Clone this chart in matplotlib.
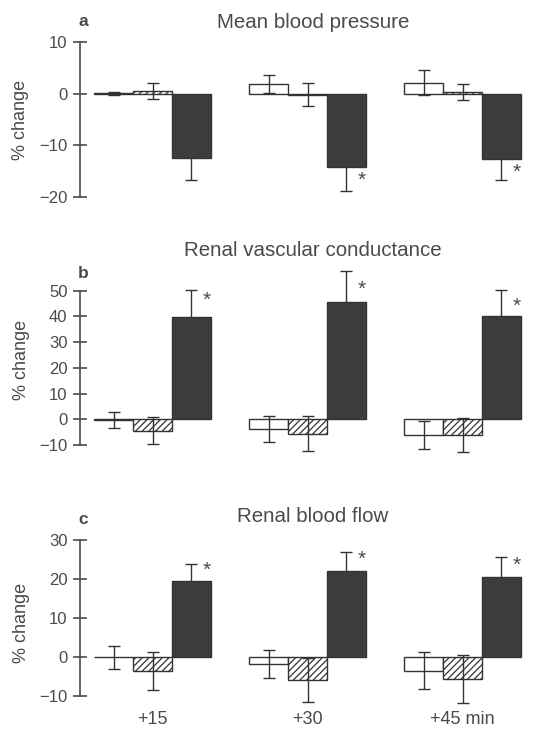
import numpy as np
from matplotlib import pyplot as plt
import matplotlib

matplotlib.rcParams["font.family"] = ["Liberation Sans", "DejaVu Sans"]
matplotlib.rcParams["hatch.linewidth"] = 0.9

text_color = "#4a4a4a"
edge_color = "#333333"
dark_color = "#3c3c3c"

groups = ["+15", "+30", "+45 min"]

# a: mean blood pressure
mbp_white = [0.1, 1.9, 2.1]
mbp_white_err = [0.3, 1.7, 2.4]
mbp_hatch = [0.5, -0.2, 0.3]
mbp_hatch_err = [1.5, 2.2, 1.5]
mbp_dark = [-12.4, -14.1, -12.6]
mbp_dark_err = [4.4, 4.7, 4.2]
mbp_star = [None, -16.8, -15.3]

# b: renal vascular conductance
rvc_white = [-0.4, -3.9, -6.0]
rvc_white_err = [3.1, 5.0, 5.4]
rvc_hatch = [-4.4, -5.7, -6.2]
rvc_hatch_err = [5.2, 6.8, 6.6]
rvc_dark = [39.6, 45.5, 40.0]
rvc_dark_err = [10.6, 12.2, 10.2]
rvc_star = [46.3, 50.6, 44.0]

# c: renal blood flow
rbf_white = [-0.1, -1.8, -3.5]
rbf_white_err = [2.9, 3.7, 4.7]
rbf_hatch = [-3.5, -5.9, -5.6]
rbf_hatch_err = [4.9, 5.6, 6.1]
rbf_dark = [19.6, 22.0, 20.6]
rbf_dark_err = [4.2, 5.0, 5.1]
rbf_star = [22.3, 25.1, 23.6]


def drawPanel(ax, white, white_err, hatch, hatch_err, dark, dark_err, stars,
              ylim, bounds, yticks):
    x = np.arange(len(groups))
    w = 0.25
    ekw = dict(ecolor=edge_color, elinewidth=1.0, capsize=4, capthick=1.0,
               zorder=3)
    ax.bar(x - w, white, w, yerr=white_err, color="white", edgecolor=edge_color,
           lw=1.0, error_kw=ekw, zorder=2)
    ax.bar(x, hatch, w, yerr=hatch_err, color="white", edgecolor=edge_color,
           lw=1.0, hatch="/////", error_kw=ekw, zorder=2)
    # error bar of the dark bar sits behind it, only the outer half shows
    ekw_dark = dict(ekw, zorder=1)
    ax.bar(x + w, dark, w, yerr=dark_err, color=dark_color, edgecolor=edge_color,
           lw=1.0, error_kw=ekw_dark, zorder=2)
    for i, s in enumerate(stars):
        if s is not None:
            ax.text(x[i] + w + 0.1, s, "*", ha="center", va="center",
                    fontsize=15, color=text_color)
    ax.set_xlim(-0.468, 2.5)
    ax.set_ylim(*ylim)
    for side in ["top", "right", "bottom"]:
        ax.spines[side].set_visible(False)
    ax.spines["left"].set_bounds(*bounds)
    ax.spines["left"].set_color(text_color)
    ax.spines["left"].set_linewidth(1.2)
    ax.set_yticks(yticks)
    ax.set_yticklabels([str(t).replace("-", "\u2212") for t in yticks])
    ax.tick_params(axis="y", direction="inout", length=10, width=1.2,
                   colors=text_color, labelsize=12, pad=4)
    ax.set_ylabel("% change", fontsize=13, color=text_color, labelpad=7)


fig = plt.figure(figsize=(5.53, 7.31), dpi=100)
left, width = 80 / 553, 460 / 553

ax1 = fig.add_axes([left, 1 - 197 / 731, width, 155 / 731])
drawPanel(ax1, mbp_white, mbp_white_err, mbp_hatch, mbp_hatch_err, mbp_dark,
          mbp_dark_err, mbp_star, (-20, 10), (-20, 10), [10, 0, -10, -20])
ax1.set_xticks([])

ax2 = fig.add_axes([left, 1 - 454 / 731, width, 189 / 731])
drawPanel(ax2, rvc_white, rvc_white_err, rvc_hatch, rvc_hatch_err, rvc_dark,
          rvc_dark_err, rvc_star, (-13.5, 60), (-10, 50),
          [50, 40, 30, 20, 10, 0, -10])
ax2.set_xticks([])

ax3 = fig.add_axes([left, 1 - 705.75 / 731, width, 165.75 / 731])
drawPanel(ax3, rbf_white, rbf_white_err, rbf_hatch, rbf_hatch_err, rbf_dark,
          rbf_dark_err, rbf_star, (-12.5, 30), (-10, 30), [30, 20, 10, 0, -10])
ax3.set_xticks(np.arange(len(groups)))
ax3.set_xticklabels(groups)
ax3.tick_params(axis="x", length=0, labelsize=13, colors=text_color, pad=4)

titles = ["Mean blood pressure", "Renal vascular conductance", "Renal blood flow"]
title_y = [22, 250, 517]
letters = ["a", "b", "c"]
letter_y = [22, 273, 520]
for t, ty, l, ly in zip(titles, title_y, letters, letter_y):
    fig.text(313 / 553, 1 - ty / 731, t, ha="center", va="center",
             fontsize=14.8, color=text_color)
    fig.text(83 / 553, 1 - ly / 731, l, ha="center", va="center",
             fontsize=12.5, fontweight="bold", color=text_color)

plt.savefig("out.png", dpi=100)
plt.close()
